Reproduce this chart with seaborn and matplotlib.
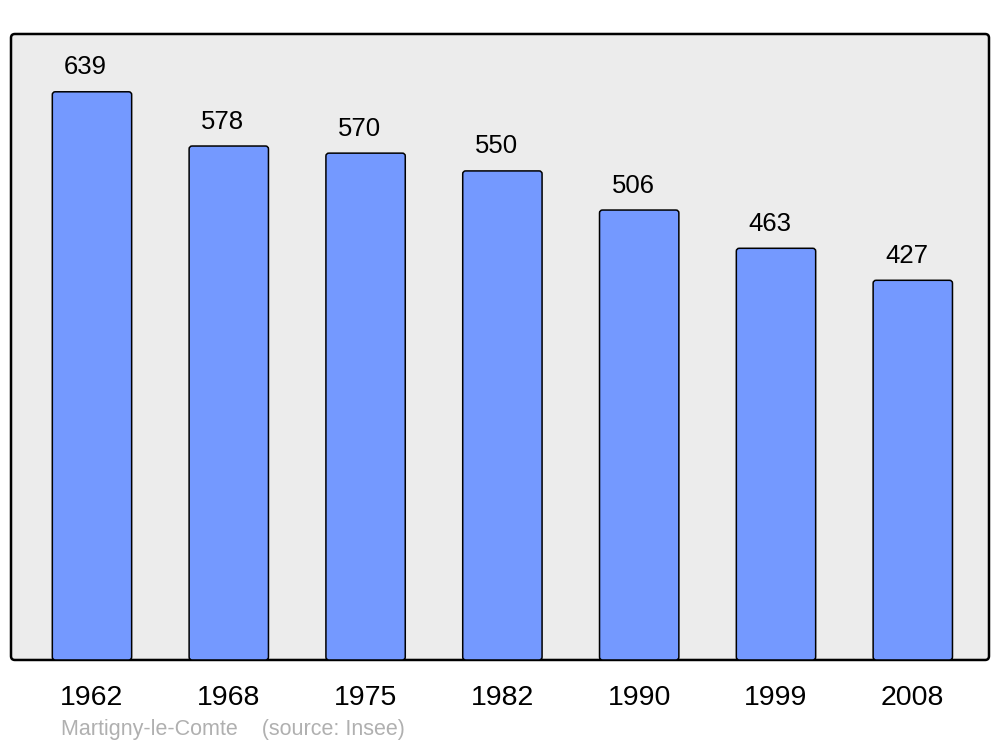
import pandas as pd
import seaborn as sns
import matplotlib.pyplot as plt
from matplotlib.patches import FancyBboxPatch

years = ['1962', '1968', '1975', '1982', '1990', '1999', '2008']
population = [639, 578, 570, 550, 506, 463, 427]
commune = 'Martigny-le-Comte'
source = '(source: Insee)'

df = pd.DataFrame({'year': years, 'population': population})

sns.set_style('white')
plt.rcParams['font.family'] = ['Liberation Sans', 'DejaVu Sans']
plt.rcParams['text.color'] = 'black'
plt.rcParams['xtick.color'] = 'black'

fig = plt.figure(figsize=(10, 7.47), dpi=100)
ax = fig.add_axes([0.011, 0.1165, 0.978, 0.838])

sns.barplot(data=df, x='year', y='population', color='#7499ff', saturation=1,
            width=0.58, edgecolor='black', linewidth=1.1, ax=ax)

# swap plain bars for rounded ones
bars = list(ax.patches)
for p in bars:
    rounded = FancyBboxPatch((p.get_x(), p.get_y()), p.get_width(), p.get_height(),
                             boxstyle='round,pad=0,rounding_size=0.022',
                             mutation_aspect=150, facecolor='#7499ff',
                             edgecolor='black', linewidth=1.1, zorder=2)
    ax.add_patch(rounded)
    p.remove()

for i, v in enumerate(population):
    ax.annotate(str(v), (i, v), xytext=(-4.5, 9), textcoords='offset points',
                ha='center', va='bottom', fontsize=18.5, color='black')

ax.set_xlim(-0.592, 6.557)
ax.set_ylim(0, 704)
ax.set_xlabel('')
ax.set_ylabel('')
ax.set_yticks([])
ax.tick_params(axis='x', length=0, pad=18, labelsize=20.5, labelcolor='black')

# rounded frame
ax.patch.set_visible(False)
for s in ax.spines.values():
    s.set_visible(False)
frame = FancyBboxPatch((0, 0), 1, 1, boxstyle='round,pad=0,rounding_size=0.004',
                       mutation_aspect=978 / 626, transform=ax.transAxes,
                       facecolor='#ececec', edgecolor='black', linewidth=1.8,
                       zorder=0, clip_on=False)
ax.add_patch(frame)

fig.text(0.061, 0.023, commune + '    ' + source, color='#b0b0b0', fontsize=15.5,
         ha='left', va='center', transform=fig.transFigure)
fig.texts[-1].set_position((0.061, 1 - 730 / 747))

fig.savefig('out.png', dpi=100, facecolor='white')
